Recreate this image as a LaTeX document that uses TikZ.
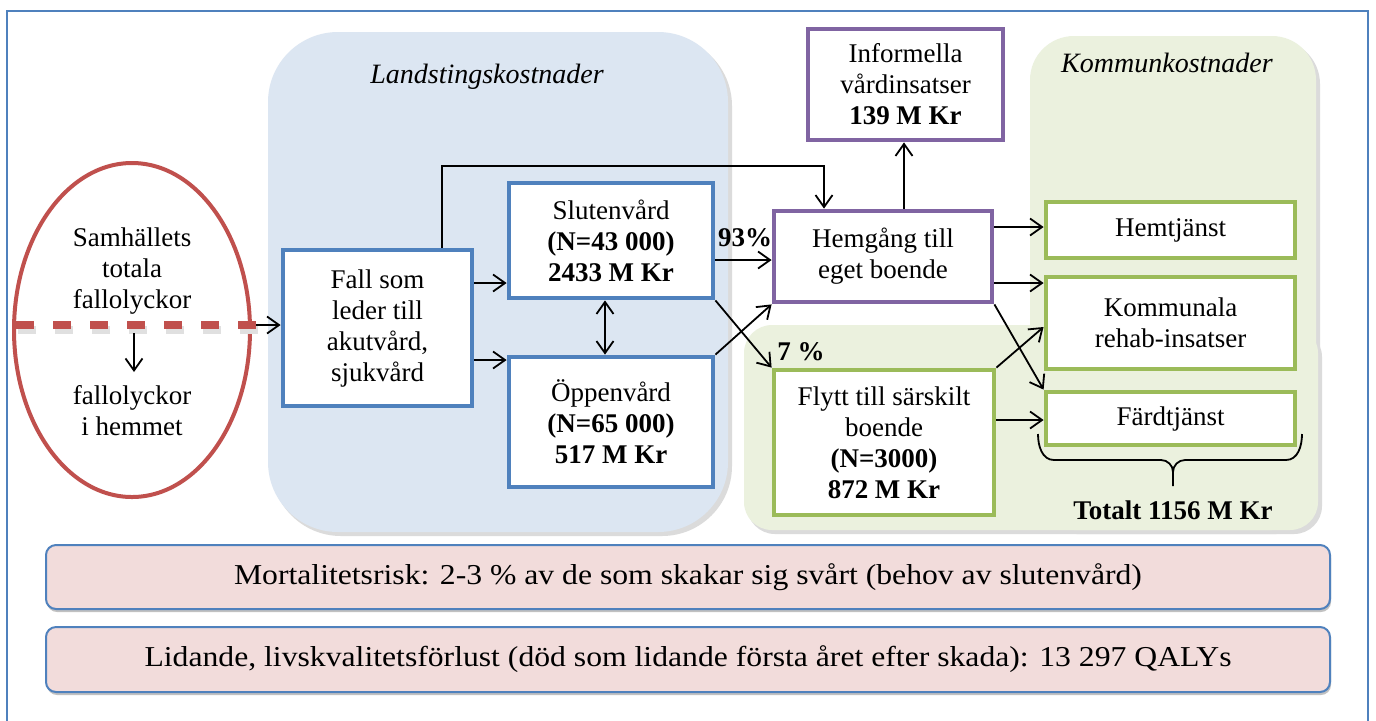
\documentclass[tikz,border=0pt]{standalone}
\usepackage{fontspec}
\setmainfont{Liberation Serif}
\newfontfamily\widefont[FakeStretch=1.1]{Liberation Serif}
\usetikzlibrary{arrows.meta,shapes.geometric,calc,shadows}
\definecolor{frameblue}{HTML}{4F81BD}
\definecolor{boxblue}{HTML}{4F81BD}
\definecolor{boxpurple}{HTML}{8064A2}
\definecolor{boxgreen}{HTML}{9BBB59}
\definecolor{ellred}{HTML}{C0504D}
\definecolor{landblue}{HTML}{DCE6F2}
\definecolor{kommgreen}{HTML}{EBF1DE}
\definecolor{barpink}{HTML}{F2DCDB}
\colorlet{shadowc}{black!14}
\newcommand\boxfont{\fontsize{13.5}{15.5}\selectfont}
\newcommand\headfont{\fontsize{14}{16}\selectfont}
\newcommand\barfont{\widefont\fontsize{14.4}{16}\selectfont}
\begin{document}
\begin{tikzpicture}[x=0.5pt,y=-0.5pt,
  arr/.style={-{Straight Barb[length=6pt,width=8.5pt]}, line width=0.9pt},
  darr/.style={{Straight Barb[length=6pt,width=8.5pt]}-{Straight Barb[length=6pt,width=8.5pt]}, line width=0.9pt},
  box/.style={draw, line width=2.4pt, fill=white, align=center, inner sep=1pt, font=\boxfont},
  bluebox/.style={box, draw=boxblue},
  purplebox/.style={box, draw=boxpurple},
  greenbox/.style={box, draw=boxgreen},
  lbl/.style={font=\boxfont, align=center, inner sep=0},
  heading/.style={font=\headfont\itshape, inner sep=0},
  bar/.style={draw=frameblue, line width=1pt, fill=barpink, rounded corners=5pt, font=\barfont, inner sep=0,
    drop shadow={shadow xshift=0.5pt, shadow yshift=-1.5pt, fill=black!40, opacity=0.6}},
  dashline/.style={line width=4pt, dash pattern=on 9pt off 9.5pt},
]
\useasboundingbox (0,0) rectangle (1376,720);
\clip (0,0) rectangle (1376,720);
\fill[white] (0,0) rectangle (1376,720);

% outer frame
\draw[frameblue, line width=1pt] (7,11) rectangle (1368,740);

% regions
\fill[shadowc, rounded corners=35pt] (271,36) rectangle (732,536);
\fill[landblue, rounded corners=35pt] (268,32) rectangle (728,532);
\fill[shadowc, rounded corners=22pt] (1033,40) rectangle (1320,534);
\fill[shadowc, rounded corners=14pt] (747,329) rectangle (1322,534);
\fill[kommgreen, rounded corners=22pt] (1030,36) rectangle (1316,530);
\fill[kommgreen, rounded corners=14pt] (744,325) rectangle (1318,530);

\node[heading] (hl) at (487,77) {Landstingskostnader};
\node[heading] (hk) at (1167,63) {Kommunkostnader};

% ellipse
\node[draw=ellred, line width=2pt, ellipse, minimum width=118pt, minimum height=167pt, inner sep=0] (ell) at (132,330) {};
\node[lbl] (tot) at (132,271) {Samhällets\\totala\\fallolyckor};
\node[lbl] (hemma) at (132,411) {fallolyckor\\i hemmet};
\coordinate (dl) at (16,325);
\coordinate (dr) at (256,325);
\draw[black!12, dashline] ($(dl)+(2,5)$) -- ($(dr)+(2,5)$);
\draw[ellred, dashline] (dl) -- (dr);
\coordinate (d1) at (134,333);
\coordinate (d2) at (134,372);

% boxes
\node[bluebox, minimum width=94.5pt, minimum height=78pt] (fall) at (377.5,328) {Fall som\\leder till\\akutvård,\\sjukvård};
\node[bluebox, minimum width=102pt, minimum height=57.5pt] (slut) at (611,240.5) {Slutenvård\\\textbf{(N=43 000)}\\\textbf{2433 M Kr}};
\node[bluebox, minimum width=102pt, minimum height=65pt] (oppen) at (611,422) {Öppenvård\\\textbf{(N=65 000)}\\\textbf{517 M Kr}};
\node[purplebox, minimum width=97.5pt, minimum height=55.5pt] (info) at (905.5,84.5) {Informella\\vårdinsatser\\\textbf{139 M Kr}};
\node[purplebox, minimum width=109pt, minimum height=45.5pt] (hem) at (883,256.5) {Hemgång till\\eget boende};
\node[greenbox, minimum width=110pt, minimum height=72.5pt] (flytt) at (884,442.5) {Flytt till särskilt\\boende\\\textbf{(N=3000)}\\\textbf{872 M Kr}};
\node[greenbox, minimum width=124.5pt, minimum height=28pt] (hemtj) at (1170.5,230) {Hemtjänst};
\node[greenbox, minimum width=124.5pt, minimum height=46pt] (komm) at (1170.5,323) {Kommunala\\rehab-insatser};
\node[greenbox, minimum width=124.5pt, minimum height=26.5pt] (fard) at (1170.5,418.5) {Färdtjänst};

% labels
\node[lbl, font=\boxfont\bfseries] (p93) at (745,238) {93\%};
\node[lbl, font=\boxfont\bfseries] (p7) at (801,352) {7 \%};
\node[lbl, font=\boxfont\bfseries] (total) at (1173,510) {Totalt 1156 M Kr};

% connectors
\draw[arr] (dr) -- (dr -| fall.west);
\draw[arr] (d1) -- (d2);
\draw[arr] (fall.east |- 0,283) -- (slut.west |- 0,283);
\draw[arr] (fall.east |- 0,360) -- (oppen.west |- 0,360);
\draw[darr] (slut.south -| 605,0) -- (oppen.north -| 605,0);
\draw[arr] (fall.north -| 442,0) |- (824,166) -- (hem.north -| 824,0);
\draw[arr] (slut.east |- 0,260) -- (hem.west |- 0,260);
\draw[arr] (slut.south east) -- (flytt.north west);
\draw[arr] (oppen.north east) -- (hem.south west);
\draw[arr] (hem.north -| 904,0) -- (info.south -| 904,0);
\draw[arr] (hem.east |- 0,227) -- (hemtj.west |- 0,227);
\draw[arr] (hem.east |- 0,283) -- (komm.west |- 0,283);
\draw[arr] (hem.south east) -- (fard.north west);
\draw[arr] (flytt.north east) -- (komm.west |- 0,327);
\draw[arr] (flytt.east |- 0,420) -- (fard.west |- 0,420);

% brace
\draw[line width=0.9pt] (1038,434) to[out=-90,in=180] (1054,460) -- (1161,460) to[out=0,in=90] (1173,472) -- (1173,486);
\draw[line width=0.9pt] (1302,434) to[out=-90,in=0] (1286,460) -- (1185,460) to[out=180,in=90] (1173,472);

% bottom bars
\node[bar, minimum width=642pt, minimum height=32pt] (bar1) at (688,577) {Mortalitetsrisk: 2-3 \% av de som skakar sig svårt (behov av slutenvård)};
\node[bar, minimum width=642pt, minimum height=32.5pt] (bar2) at (688,659.5) {Lidande, livskvalitetsförlust (död som lidande första året efter skada): 13 297 QALYs};
\end{tikzpicture}
\end{document}
